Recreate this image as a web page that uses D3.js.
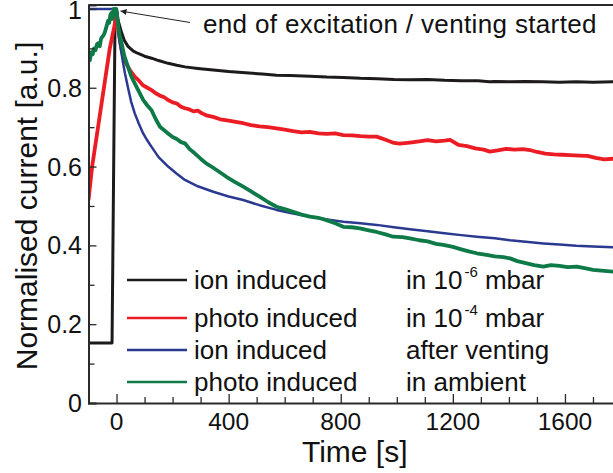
<!DOCTYPE html>
<html>
<head>
<meta charset="utf-8">
<script src="https://cdn.jsdelivr.net/npm/d3@7"></script>
<style>
  html, body { margin: 0; padding: 0; background: #fff; }
  svg { display: block; font-family: "Liberation Sans", Arial, Helvetica, sans-serif; }
</style>
</head>
<body>
<svg id="chart" width="613" height="473"></svg>
<script>
// Normalised current transients: excitation ends at t = 0 s
const xTicks = [0, 400, 800, 1200, 1600];
const yTicks = [0, 0.2, 0.4, 0.6, 0.8, 1];
const yTickLabels = ["0", "0.2", "0.4", "0.6", "0.8", "1"];

const ionVacuum = [
  [-100,0.152],[-16,0.152],[-5,1.0],[0,1.0],[6,0.97],[12,0.955],[18,0.94],[28,0.92],[41,0.905],
  [60,0.893],[77,0.887],[100,0.88],[125,0.875],[150,0.869],[184,0.862],[215,0.857],[244,0.853],
  [290,0.849],[345,0.845],[400,0.841],[460,0.838],[520,0.835],[571,0.832],[620,0.831],[690,0.829],
  [750,0.827],[809,0.826],[870,0.824],[930,0.823],[990,0.821],[1047,0.820],[1110,0.821],[1170,0.819],
  [1230,0.818],[1290,0.818],[1330,0.815],[1350,0.816],[1404,0.815],[1460,0.816],[1520,0.815],
  [1580,0.814],[1640,0.815],[1700,0.814],[1775,0.815]
];

const photoVacuum = [
  [-100,0.515],[-87,0.6],[-66,0.7],[-45,0.8],[-24,0.9],[-8,0.955],[-3,0.975],[0,0.99],[4,0.96],
  [10,0.93],[18,0.896],[28,0.87],[41,0.853],[52,0.84],[65,0.828],[80,0.818],[95,0.806],[110,0.8],
  [125,0.794],[140,0.786],[155,0.78],[170,0.776],[184,0.769],[200,0.763],[215,0.76],[230,0.752],
  [244,0.748],[260,0.745],[275,0.74],[290,0.742],[305,0.735],[320,0.73],[345,0.726],[370,0.72],
  [395,0.717],[420,0.714],[452,0.71],[480,0.705],[510,0.702],[540,0.70],[571,0.697],[600,0.694],
  [630,0.69],[660,0.687],[690,0.688],[720,0.684],[750,0.683],[780,0.684],[809,0.68],[840,0.679],
  [870,0.677],[900,0.676],[928,0.676],[960,0.668],[990,0.66],[1010,0.658],[1047,0.661],[1080,0.664],
  [1110,0.667],[1140,0.664],[1170,0.666],[1190,0.668],[1220,0.655],[1250,0.652],[1280,0.646],
  [1310,0.643],[1332,0.638],[1360,0.641],[1390,0.645],[1420,0.643],[1450,0.644],[1475,0.642],
  [1500,0.637],[1530,0.633],[1560,0.631],[1590,0.63],[1618,0.629],[1650,0.628],[1680,0.627],
  [1710,0.622],[1740,0.618],[1775,0.620]
];

const ionVented = [
  [-100,1.0],[0,1.0],[3,0.975],[6,0.947],[10,0.92],[14,0.905],[18,0.887],[24,0.86],[30,0.837],
  [41,0.80],[52,0.765],[65,0.735],[80,0.708],[95,0.684],[110,0.666],[125,0.650],[150,0.624],
  [184,0.600],[215,0.582],[244,0.566],[290,0.55],[345,0.536],[400,0.524],[452,0.515],[510,0.502],
  [571,0.490],[630,0.481],[690,0.473],[750,0.466],[809,0.460],[870,0.456],[928,0.452],[990,0.446],
  [1047,0.441],[1110,0.436],[1170,0.431],[1230,0.426],[1285,0.422],[1350,0.418],[1404,0.413],
  [1460,0.409],[1523,0.405],[1580,0.402],[1640,0.399],[1700,0.397],[1775,0.395]
];

const photoAmbient = [
  [-100,0.88],[-95,0.87],[-90,0.89],[-85,0.885],[-80,0.9],[-75,0.895],[-70,0.91],[-66,0.913],
  [-60,0.905],[-55,0.925],[-50,0.93],[-45,0.935],[-42,0.94],[-38,0.95],[-34,0.96],[-30,0.97],
  [-26,0.965],[-22,0.985],[-18,0.99],[-14,0.975],[-10,1.0],[-6,0.985],[-2,1.0],[0,0.995],[6,0.955],
  [12,0.93],[18,0.913],[28,0.88],[41,0.853],[52,0.83],[65,0.811],[80,0.79],[95,0.769],[110,0.755],
  [125,0.743],[140,0.72],[155,0.701],[170,0.692],[184,0.684],[200,0.675],[215,0.67],[230,0.662],
  [244,0.659],[260,0.645],[280,0.633],[300,0.62],[320,0.608],[345,0.597],[370,0.585],[392,0.574],
  [420,0.562],[452,0.549],[480,0.537],[512,0.523],[540,0.51],[571,0.498],[600,0.492],[630,0.485],
  [660,0.478],[690,0.473],[720,0.47],[749,0.464],[780,0.456],[809,0.447],[840,0.446],[868,0.443],
  [900,0.438],[928,0.434],[960,0.428],[987,0.422],[1020,0.421],[1047,0.418],[1080,0.413],[1110,0.41],
  [1140,0.404],[1166,0.401],[1200,0.396],[1230,0.39],[1260,0.384],[1285,0.38],[1320,0.376],
  [1350,0.372],[1380,0.37],[1404,0.367],[1430,0.36],[1460,0.355],[1490,0.35],[1523,0.346],
  [1550,0.35],[1580,0.348],[1610,0.345],[1642,0.346],[1670,0.342],[1700,0.338],[1730,0.336],
  [1775,0.333]
];

const seriesNames = ["ion induced", "photo induced", "ion induced", "photo induced"];
const seriesColors = ["#1c1a1b", "#ec1c24", "#2b3990", "#0d7a48"];
const seriesWidths = [3, 3.8, 2.5, 3.8];

const svg = d3.select("#chart");
const axisColor = "#2a2a2a";

const x = d3.scaleLinear().domain([-100, 1775]).range([88.5, 614]);
const y = d3.scaleLinear().domain([0, 1.01]).range([403, 5]);

svg.append("defs").append("clipPath").attr("id", "plotClip")
  .append("rect").attr("x", 88.5).attr("y", 5).attr("width", 530).attr("height", 398);

const line = d3.line().x(d => x(d[0])).y(d => y(d[1]));

const curves = svg.append("g").attr("clip-path", "url(#plotClip)");
const drawOrder = [
  { data: ionVacuum, i: 0 },
  { data: photoVacuum, i: 1 },
  { data: ionVented, i: 2 },
  { data: photoAmbient, i: 3 }
];
drawOrder.forEach(s => {
  curves.append("path")
    .datum(s.data)
    .attr("d", line)
    .attr("fill", "none")
    .attr("stroke", seriesColors[s.i])
    .attr("stroke-width", seriesWidths[s.i])
    .attr("stroke-linejoin", "round");
});

// axes with inward ticks
const xAxis = d3.axisBottom(x).tickValues(d3.range(-100, 1800, 100))
  .tickSize(-9).tickFormat(() => "");
const gx = svg.append("g").attr("transform", "translate(0,403)").call(xAxis);
gx.selectAll(".tick line").attr("y2", d => xTicks.includes(d) ? -9 : -6);

const yAxis = d3.axisLeft(y).tickValues(d3.range(0, 1.01, 0.1).map(v => +v.toFixed(2)))
  .tickSize(-8).tickFormat(() => "");
const gy = svg.append("g").attr("transform", "translate(88.5,0)").call(yAxis);
gy.selectAll(".tick line").attr("x2", (d, i) => i % 2 === 0 ? 8 : 6);

[gx, gy].forEach(g => {
  g.select(".domain").attr("stroke", axisColor).attr("stroke-width", 2);
  g.selectAll(".tick line").attr("stroke", axisColor).attr("stroke-width", 1.3);
});

// top frame line
svg.append("line").attr("x1", x(-100)).attr("x2", 613).attr("y1", 5).attr("y2", 5)
  .attr("stroke", axisColor).attr("stroke-width", 2);

// tick labels
svg.append("g").selectAll("text").data(xTicks).join("text")
  .attr("x", d => x(d)).attr("y", 430)
  .attr("text-anchor", "middle").attr("font-size", 24.5).attr("fill", "#111")
  .text(d => d);

svg.append("g").selectAll("text").data(yTicks).join("text")
  .attr("x", 82).attr("y", d => Math.max(y(d) + 9, 19))
  .attr("text-anchor", "end").attr("font-size", 25).attr("fill", "#111")
  .text((d, i) => yTickLabels[i]);

// axis titles
svg.append("text").attr("x", x(850) - 0).attr("y", 462)
  .attr("text-anchor", "middle").attr("font-size", 30).attr("fill", "#111")
  .text("Time [s]");

svg.append("text").attr("transform", "translate(37,206) rotate(-90)")
  .attr("text-anchor", "middle").attr("font-size", 30).attr("fill", "#111")
  .text("Normalised current [a.u.]");

// annotation with arrow
svg.append("defs").append("marker").attr("id", "arrowHead")
  .attr("viewBox", "0 0 10 10").attr("refX", 10).attr("refY", 5)
  .attr("markerWidth", 12).attr("markerHeight", 6).attr("markerUnits", "userSpaceOnUse")
  .attr("orient", "auto")
  .append("path").attr("d", "M0,0 L10,5 L0,10 Z").attr("fill", "#222");

svg.append("line").attr("x1", 190).attr("y1", 22.5).attr("x2", 120.5).attr("y2", 11)
  .attr("stroke", "#222").attr("stroke-width", 1).attr("marker-end", "url(#arrowHead)");

svg.append("text").attr("x", 203).attr("y", 33).attr("font-size", 26)
  .attr("letter-spacing", 0.35).attr("fill", "#111")
  .text("end of excitation / venting started");

// legend
const legendRows = [
  { y: 280, cond: ["in 10", "-6", " mbar"] },
  { y: 318, cond: ["in 10", "-4", " mbar"] },
  { y: 350, cond: ["after venting"] },
  { y: 382, cond: ["in ambient"] }
];
const legend = svg.append("g");
legendRows.forEach((r, i) => {
  legend.append("line").attr("x1", 127).attr("x2", 187).attr("y1", r.y).attr("y2", r.y)
    .attr("stroke", seriesColors[i]).attr("stroke-width", 2.6);
  legend.append("text").attr("x", 194).attr("y", r.y + 9).attr("font-size", 26).attr("fill", "#111")
    .text(seriesNames[i]);
  const t = legend.append("text").attr("x", 406).attr("y", r.y + 9).attr("font-size", 26).attr("fill", "#111");
  if (r.cond.length === 1) {
    t.text(r.cond[0]);
  } else {
    t.append("tspan").text(r.cond[0]);
    t.append("tspan").attr("dx", 2).attr("dy", -12).attr("font-size", 15).text(r.cond[1]);
    t.append("tspan").attr("dy", 12).text(r.cond[2]);
  }
});
</script>
</body>
</html>
